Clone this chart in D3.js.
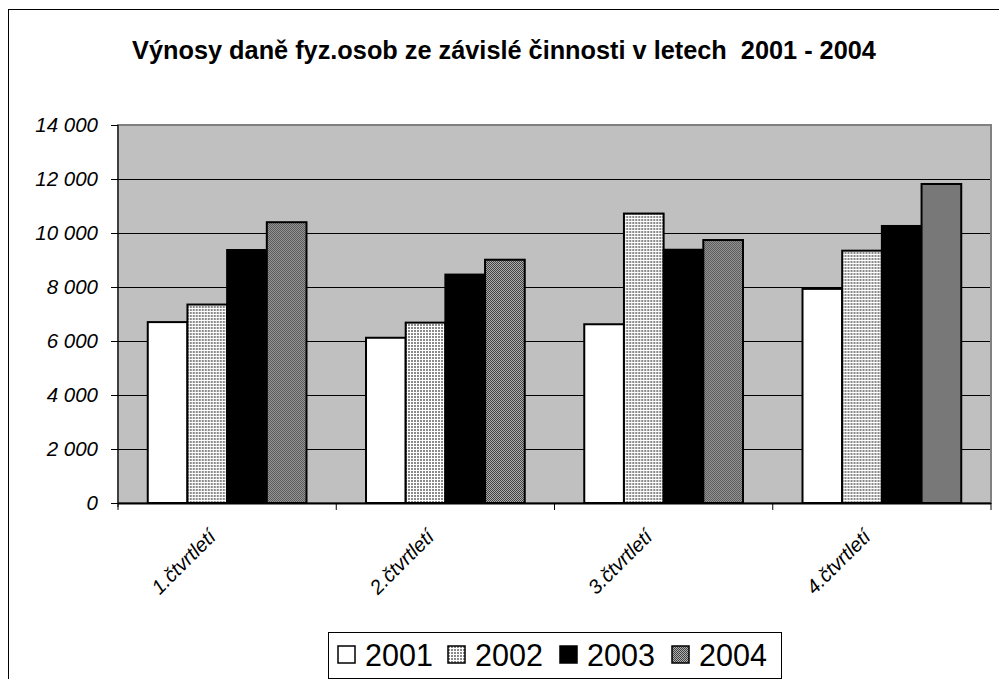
<!DOCTYPE html>
<html>
<head>
<meta charset="utf-8">
<script src="https://cdn.jsdelivr.net/npm/d3@7"></script>
<style>
  body { margin: 0; background: #fff; }
  svg { font-family: "Liberation Sans", Arial, sans-serif; }
</style>
</head>
<body>
<div id="chart"></div>
<script>
const title = 'Výnosy daně fyz.osob ze závislé činnosti v letech  2001 - 2004';
const quarters = ['1.čtvrtletí', '2.čtvrtletí', '3.čtvrtletí', '4.čtvrtletí'];
const years = ['2001', '2002', '2003', '2004'];
const v2001 = [6700, 6120, 6620, 7930];
const v2002 = [7350, 6680, 10720, 9345];
const v2003 = [9370, 8460, 9380, 10260];
const v2004 = [10400, 9010, 9740, 11815];
const yTicks = [0, 2000, 4000, 6000, 8000, 10000, 12000, 14000];

const series = [v2001, v2002, v2003, v2004];

const W = 999, H = 679;
const plot = {left: 118, top: 125, right: 991, bottom: 503};

const svg = d3.select('#chart').append('svg')
  .attr('width', W)
  .attr('height', H);

// patterns for 2002 and 2004
const defs = svg.append('defs');
let p2 = defs.append('pattern')
  .attr('id', 'pat2002')
  .attr('patternUnits', 'userSpaceOnUse')
  .attr('width', 3).attr('height', 3);
p2.append('rect').attr('width', 3).attr('height', 3).attr('fill', '#ffffff');
p2.append('rect').attr('width', 2).attr('height', 2).attr('fill', '#8a8a8a');

let p4 = defs.append('pattern')
  .attr('id', 'pat2004')
  .attr('patternUnits', 'userSpaceOnUse')
  .attr('width', 2).attr('height', 2);
p4.append('rect').attr('width', 2).attr('height', 2).attr('fill', '#b0b0b0');
p4.append('rect').attr('width', 1).attr('height', 1).attr('fill', '#404040');
p4.append('rect').attr('x', 1).attr('y', 1).attr('width', 1).attr('height', 1).attr('fill', '#404040');

const fills = ['#ffffff', 'url(#pat2002)', '#000000', 'url(#pat2004)'];

// outer chart border (runs off right & bottom edges)
svg.append('rect')
  .attr('x', 8.5).attr('y', 9.5)
  .attr('width', W + 10).attr('height', H + 10)
  .attr('fill', 'none')
  .attr('stroke', '#000')
  .attr('stroke-width', 1);

svg.append('text')
  .attr('x', 504)
  .attr('y', 59)
  .attr('text-anchor', 'middle')
  .attr('font-size', 25.3)
  .attr('font-weight', 'bold')
  .style('white-space', 'pre')
  .attr('xml:space', 'preserve')
  .text(title);

const x0 = d3.scaleBand()
  .domain(quarters)
  .range([plot.left, plot.right])
  .paddingInner(0)
  .paddingOuter(0);

// gap width 150% -> cluster of 4 bars occupies 4/5.5 of band
const barW = x0.bandwidth() / 5.5;
const x1 = d3.scaleBand()
  .domain(years)
  .range([0, barW * 4]);

const y = d3.scaleLinear()
  .domain([0, 14000])
  .range([plot.bottom, plot.top]);

// plot area
svg.append('rect')
  .attr('x', plot.left).attr('y', plot.top)
  .attr('width', plot.right - plot.left)
  .attr('height', plot.bottom - plot.top)
  .attr('fill', '#c0c0c0')
  .attr('stroke', '#808080')
  .attr('stroke-width', 2);

// gridlines
svg.append('g')
  .selectAll('line')
  .data(yTicks.filter(t => t > 0 && t < 14000))
  .join('line')
  .attr('x1', plot.left).attr('x2', plot.right - 1)
  .attr('y1', d => Math.round(y(d)) + 0.5)
  .attr('y2', d => Math.round(y(d)) + 0.5)
  .attr('stroke', '#000')
  .attr('stroke-width', 1);

// bars
const groups = svg.append('g')
  .selectAll('g')
  .data(quarters)
  .join('g')
  .attr('transform', q => `translate(${x0(q) + barW * 0.75},0)`);

groups.selectAll('rect')
  .data((q, qi) => years.map((yr, si) => ({yr: yr, si: si, v: series[si][qi]})))
  .join('rect')
  .attr('x', d => x1(d.yr))
  .attr('y', d => y(d.v))
  .attr('width', x1.bandwidth())
  .attr('height', d => y(0) - y(d.v))
  .attr('fill', d => fills[d.si])
  .attr('stroke', '#000')
  .attr('stroke-width', 2);

// y axis
const yAxis = d3.axisLeft(y)
  .tickValues(yTicks)
  .tickSize(7)
  .tickPadding(13)
  .tickFormat(d => d3.format(',')(d).replace(/,/g, ' '));

const gy = svg.append('g')
  .attr('transform', `translate(${plot.left},0)`)
  .call(yAxis);
gy.select('.domain').attr('d', `M0,${plot.top}V${plot.bottom + 4}`).attr('stroke', '#000');
gy.selectAll('.tick line').attr('stroke', '#000');
gy.selectAll('.tick text')
  .attr('font-size', 20.5)
  .attr('font-style', 'italic')
  .attr('font-family', '"Liberation Sans", Arial, sans-serif')
  .attr('fill', '#000');

// x axis: baseline + ticks at category boundaries
svg.append('line')
  .attr('x1', plot.left).attr('x2', plot.right)
  .attr('y1', plot.bottom + 0.5).attr('y2', plot.bottom + 0.5)
  .attr('stroke', '#000').attr('stroke-width', 2);

const bounds = quarters.map(q => x0(q)).concat([plot.right]);
svg.append('g')
  .selectAll('line')
  .data(bounds)
  .join('line')
  .attr('x1', d => d).attr('x2', d => d)
  .attr('y1', plot.bottom).attr('y2', plot.bottom + 7)
  .attr('stroke', '#000');

svg.append('g')
  .selectAll('text')
  .data(quarters)
  .join('text')
  .attr('transform', q => `translate(${x0(q) + x0.bandwidth() / 2 - 10},${plot.bottom + 35}) rotate(-45)`)
  .attr('text-anchor', 'end')
  .attr('font-size', 20)
  .attr('font-style', 'italic')
  .text(q => q);

// legend
const legend = svg.append('g');
legend.append('rect')
  .attr('x', 328.5).attr('y', 632.5)
  .attr('width', 453).attr('height', 46)
  .attr('fill', '#fff')
  .attr('stroke', '#000');

const legX = [338, 448, 560, 672];
const items = legend.selectAll('g.item')
  .data(years)
  .join('g')
  .attr('class', 'item')
  .attr('transform', (d, i) => `translate(${legX[i]},646)`);
items.append('rect')
  .attr('width', 17).attr('height', 17)
  .attr('fill', (d, i) => fills[i])
  .attr('stroke', '#000')
  .attr('stroke-width', 1.5);
items.append('text')
  .attr('x', 27)
  .attr('y', 19.5)
  .attr('font-size', 30.5)
  .text(d => d);
</script>
</body>
</html>
